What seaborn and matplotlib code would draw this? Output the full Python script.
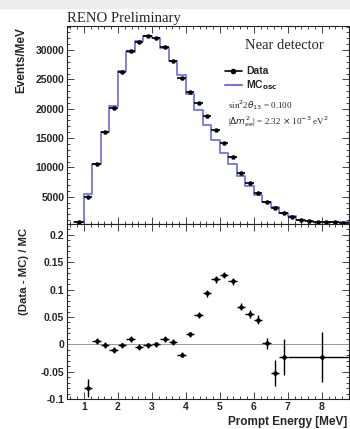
import numpy as np
import pandas as pd
import matplotlib
matplotlib.use("Agg")
import matplotlib.pyplot as plt
from matplotlib.ticker import MultipleLocator
import seaborn as sns

# prompt energy bins (MeV) for the spectrum
bin_edges = [0.7, 1.0, 1.25, 1.5, 1.75, 2.0, 2.25, 2.5, 2.75, 3.0, 3.25, 3.5, 3.75,
             4.0, 4.25, 4.5, 4.75, 5.0, 5.25, 5.5, 5.75, 6.0, 6.25, 6.5, 6.75,
             7.0, 7.25, 7.5, 7.75, 8.0, 8.25, 8.5, 8.75, 9.0]
# Events/MeV, data and MC (oscillated)
data_counts = [750, 5000, 10570, 15980, 20180, 26300, 29890, 31420, 32390, 32000,
               30570, 28180, 25180, 22900, 20920, 18750, 16370, 14100, 11820, 9090,
               7280, 5590, 4150, 3020, 2170, 1590, 1080, 900, 750, 700, 650, 600, 600]
mc_counts = [760, 5430, 10510, 16000, 20380, 26350, 29590, 31580, 32450, 32000,
             30270, 28070, 25670, 22500, 19850, 17150, 14630, 12510, 10600, 8500,
             6900, 5350, 4140, 3190, 2220, 1630, 1100, 920, 770, 715, 665, 615, 615]

# (Data - MC) / MC
ratio_e = [1.125, 1.375, 1.625, 1.875, 2.125, 2.375, 2.625, 2.875, 3.125, 3.375,
           3.625, 3.875, 4.125, 4.375, 4.625, 4.875, 5.125, 5.375, 5.625, 5.875,
           6.125, 6.375, 6.625, 6.875, 8.0]
ratio_val = [-0.080, 0.006, -0.001, -0.010, -0.002, 0.010, -0.005, -0.002, 0.000, 0.010,
             0.004, -0.019, 0.018, 0.054, 0.093, 0.119, 0.127, 0.115, 0.069, 0.055,
             0.045, 0.002, -0.053, -0.023, -0.023]
ratio_yerr = [0.017, 0.006, 0.005, 0.005, 0.005, 0.005, 0.005, 0.005, 0.005, 0.005,
              0.005, 0.005, 0.005, 0.005, 0.006, 0.006, 0.006, 0.006, 0.007, 0.007,
              0.008, 0.010, 0.024, 0.033, 0.045]
ratio_xerr = [0.125] * 24 + [1.0]

top_yticks = [5000, 10000, 15000, 20000, 25000, 30000]
top_yticklabels = ["5000", "10000", "15000", "20000", "25000", "30000"]
bot_yticks = [-0.1, -0.05, 0, 0.05, 0.1, 0.15, 0.2]
bot_yticklabels = ["-0.1", "-0.05", "0", "0.05", "0.1", "0.15", "0.2"]
xticks = [1, 2, 3, 4, 5, 6, 7, 8]

edges = np.array(bin_edges)
centers = (edges[:-1] + edges[1:]) / 2
halfw = (edges[1:] - edges[:-1]) / 2
spec = pd.DataFrame({"E": centers, "data": data_counts, "mc": mc_counts})
ratio = pd.DataFrame({"E": ratio_e, "r": ratio_val})

sns.set_style("ticks")
plt.rcParams["font.family"] = ["Liberation Sans", "DejaVu Sans"]
plt.rcParams["axes.unicode_minus"] = False

W, H = 350, 429
fig = plt.figure(figsize=(W / 100, H / 100), dpi=100)
fig.patch.set_facecolor("white")
fig.patches.append(plt.Rectangle((0, 1 - 8 / H), 1, 8 / H, transform=fig.transFigure,
                                 color="#ececec", zorder=0))

left, right = 67 / W, 349 / W
ax1 = fig.add_axes([left, 1 - 224 / H, right - left, 198 / H])
ax2 = fig.add_axes([left, 1 - 399 / H, right - left, 175 / H])

mc_color = "#7474e4"
sns.histplot(data=spec, x="E", weights="mc", bins=bin_edges, element="step", fill=False,
             color=mc_color, linewidth=1.3, ax=ax1)
ax1.errorbar(spec["E"], spec["data"], xerr=halfw, fmt="none", ecolor="black", elinewidth=1.2)
sns.scatterplot(data=spec, x="E", y="data", color="black", s=9, marker="o",
                edgecolor="black", ax=ax1, zorder=5)

ax2.axhline(0, color="#999999", lw=0.7)
ax2.errorbar(ratio["E"], ratio["r"], xerr=ratio_xerr, yerr=ratio_yerr, fmt="none",
             ecolor="black", elinewidth=1.0)
sns.scatterplot(data=ratio, x="E", y="r", color="black", s=9, marker="o",
                edgecolor="black", ax=ax2, zorder=5)

for ax in (ax1, ax2):
    ax.set_xlim(0.5, 8.8)
    ax.set_xticks(xticks)
    ax.xaxis.set_minor_locator(MultipleLocator(0.2))
    ax.tick_params(which="both", direction="in", top=True, right=True, width=0.6,
                   labelsize=7.5, pad=2)
    ax.tick_params(which="major", length=5)
    ax.tick_params(which="minor", length=2.5)
    ax.set_xlabel("")
    ax.set_ylabel("")
    for s in ax.spines.values():
        s.set_linewidth(0.8)
        s.set_color("#222222")

ax1.set_ylim(350, 34100)
ax1.set_yticks(top_yticks)
ax1.set_yticklabels(top_yticklabels, fontweight="bold")
ax1.yaxis.set_minor_locator(MultipleLocator(1000))
ax1.set_xticklabels([])

ax2.set_ylim(-0.1, 0.22)
ax2.set_yticks(bot_yticks)
ax2.set_yticklabels(bot_yticklabels, fontweight="bold")
ax2.yaxis.set_minor_locator(MultipleLocator(0.01))
ax2.set_xticklabels([str(t) for t in xticks], fontweight="bold")

serif = ["Liberation Serif", "DejaVu Serif"]
fig.text(left, 1 - 22 / H, "RENO Preliminary", family=serif, fontsize=10.6, ha="left",
         va="baseline")
fig.text(21 / W, 1 - 27 / H, "Events/MeV", rotation=90, fontsize=8.5, fontweight="bold",
         ha="center", va="top")
fig.text(24 / W, 1 - 228 / H, "(Data - MC) / MC", rotation=90, fontsize=8.2,
         fontweight="bold", ha="center", va="top")
fig.text(228 / W, 1 - 425 / H, "Prompt Energy [MeV]", fontsize=8.5, fontweight="bold",
         ha="left", va="baseline")

ax1.text(0.77, 0.9, "Near detector", transform=ax1.transAxes, family=serif, fontsize=10.5,
         ha="center", va="center")
ax1.plot([0.56, 0.62], [0.775, 0.775], transform=ax1.transAxes, color="black", lw=1.2)
ax1.plot([0.59], [0.775], transform=ax1.transAxes, marker="o", ms=3, color="black")
ax1.text(0.635, 0.775, "Data", transform=ax1.transAxes, fontsize=7.5, fontweight="bold",
         va="center")
ax1.plot([0.56, 0.62], [0.7, 0.7], transform=ax1.transAxes, color=mc_color, lw=1.5)
ax1.text(0.635, 0.7, r"MC$_{\mathbf{osc}}$", transform=ax1.transAxes, fontsize=7.5,
         fontweight="bold", va="center")
ax1.text(0.57, 0.6, r"sin$^2$2$\theta_{13}$ = 0.100", transform=ax1.transAxes, family=serif,
         fontsize=6.5, va="center")
ax1.text(0.57, 0.515, r"|$\Delta m^2_{ee}$| = 2.32 $\times$ 10$^{-3}$ eV$^2$",
         transform=ax1.transAxes, family=serif, fontsize=6.5, va="center")

fig.savefig("out.png", dpi=100)
